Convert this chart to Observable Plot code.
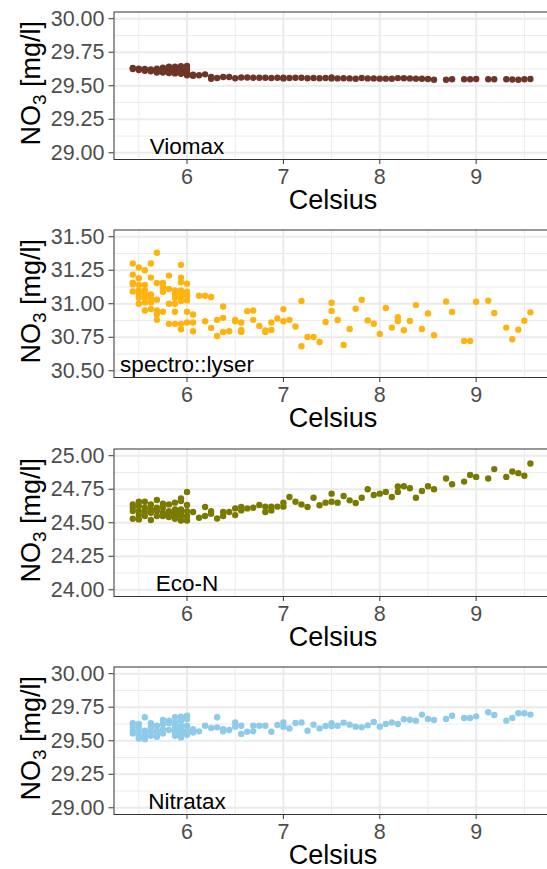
<!DOCTYPE html>
<html>
<head>
<meta charset="utf-8">
<script src="https://cdn.jsdelivr.net/npm/d3@7"></script>
<script src="https://cdn.jsdelivr.net/npm/@observablehq/plot@0.6"></script>
<style>
  html, body { margin: 0; padding: 0; background: #fff; overflow: hidden; }
  #wrap { position: relative; width: 547px; height: 869px; overflow: hidden; }
  #wrap svg { position: absolute; left: 0; max-width: none !important; }
</style>
</head>
<body>
<div id="wrap"></div>
<script>
// Temperature (°C) columns with the NO3 readings (mg/l) observed at each one
const viomax = [
  [5.4375, [29.632, 29.625]], [5.5, [29.628, 29.618]], [5.5625, [29.625, 29.612]],
  [5.625, [29.622, 29.608]], [5.6875, [29.628, 29.61, 29.598]], [5.75, [29.635, 29.615, 29.598]],
  [5.8125, [29.642, 29.62, 29.595]], [5.875, [29.642, 29.615, 29.592]], [5.9375, [29.645, 29.618, 29.59]],
  [6.0, [29.648, 29.62, 29.595, 29.578]], [6.0625, [29.582, 29.575]], [6.125, [29.578]],
  [6.1875, [29.585]], [6.25, [29.565, 29.552]], [6.3125, [29.558]], [6.375, [29.565]],
  [6.4375, [29.565]], [6.5, [29.556]], [6.5625, [29.562]], [6.625, [29.562]], [6.6875, [29.56]],
  [6.75, [29.56]], [6.8125, [29.56]], [6.875, [29.558]], [6.9375, [29.56]], [7.0, [29.56, 29.555]],
  [7.0625, [29.558]], [7.125, [29.56]], [7.1875, [29.56]], [7.25, [29.556]], [7.3125, [29.558]],
  [7.375, [29.556]], [7.4375, [29.558]], [7.5, [29.562, 29.555]], [7.5625, [29.555]],
  [7.625, [29.556]], [7.6875, [29.555]], [7.75, [29.552]], [7.8125, [29.558]], [7.875, [29.555]],
  [7.9375, [29.555]], [8.0, [29.553]], [8.0625, [29.553]], [8.125, [29.552]], [8.1875, [29.557]],
  [8.25, [29.556]], [8.3125, [29.555]], [8.375, [29.553]], [8.4375, [29.552]], [8.5, [29.55]],
  [8.5625, [29.545]], [8.6875, [29.545]], [8.75, [29.548]], [8.875, [29.548]], [8.9375, [29.548]],
  [9.0, [29.55]], [9.125, [29.548]], [9.1875, [29.548]], [9.3125, [29.548]], [9.375, [29.547]],
  [9.4375, [29.545]], [9.5, [29.548]], [9.5625, [29.55]]
];
const spectrolyser = [
  [5.4375, [31.30, 31.217, 31.157, 31.145, 31.092]],
  [5.5, [31.27, 31.19, 31.14, 31.10, 31.075, 31.045, 31.00]],
  [5.5625, [31.25, 31.14, 31.10, 31.075, 31.045, 31.01, 30.95]],
  [5.625, [31.30, 31.195, 31.07, 31.04, 31.01, 30.96]],
  [5.6875, [31.38, 31.155, 31.03, 30.95, 30.92, 30.88]],
  [5.75, [31.155, 31.125, 31.09, 30.94]],
  [5.8125, [31.21, 31.11, 31.00, 30.85]],
  [5.875, [31.10, 31.075, 31.045, 31.00, 30.94, 30.85]],
  [5.9375, [31.29, 31.195, 31.16, 31.10, 31.08, 31.05, 31.02, 30.85, 30.81]],
  [6.0, [31.15, 31.09, 31.06, 31.025, 30.94, 30.86]],
  [6.0625, [30.92, 30.86, 30.795]], [6.125, [31.06]], [6.1875, [31.06, 30.87]],
  [6.25, [31.05, 30.82]], [6.3125, [30.88, 30.76]], [6.375, [30.98, 30.895, 30.79]],
  [6.4375, [30.795]], [6.5, [30.88, 30.87]], [6.5625, [30.86, 30.805, 30.79]],
  [6.625, [30.945]], [6.6875, [30.95, 30.88]], [6.75, [30.835]], [6.8125, [30.80, 30.79]],
  [6.875, [30.86, 30.805]], [6.9375, [30.89]], [7.0, [30.96, 30.87]], [7.0625, [30.88]],
  [7.125, [30.83]], [7.1875, [31.02, 30.683]], [7.25, [30.752]], [7.3125, [30.752]],
  [7.375, [30.715]], [7.4375, [30.864]], [7.5, [31.007, 30.946]], [7.5625, [30.879]],
  [7.625, [30.693]], [7.6875, [30.812]], [7.75, [30.963]], [7.8125, [31.03]], [7.875, [30.876]],
  [7.9375, [30.851]], [8.0, [30.775]], [8.0625, [30.968]], [8.125, [30.822]],
  [8.1875, [30.899, 30.871]], [8.25, [30.802]], [8.3125, [30.871]], [8.375, [30.99]],
  [8.4375, [30.812]], [8.5, [30.928]], [8.5625, [30.765]], [8.6875, [31.017]], [8.75, [30.938]],
  [8.875, [30.723]], [8.9375, [30.723]], [9.0, [31.015]], [9.125, [31.022]], [9.1875, [30.931]],
  [9.3125, [30.822]], [9.375, [30.735]], [9.4375, [30.807]], [9.5, [30.874]], [9.5625, [30.936]]
];
const ecoN = [
  [5.4375, [24.637, 24.612, 24.587, 24.53]],
  [5.5, [24.657, 24.625, 24.587, 24.557, 24.525]],
  [5.5625, [24.657, 24.612, 24.582, 24.55]],
  [5.625, [24.637, 24.60, 24.575, 24.52]],
  [5.6875, [24.67, 24.612, 24.587, 24.55]],
  [5.75, [24.642, 24.612, 24.575, 24.55]],
  [5.8125, [24.637, 24.587, 24.567, 24.542]],
  [5.875, [24.65, 24.60, 24.575, 24.55, 24.53]],
  [5.9375, [24.682, 24.662, 24.60, 24.575, 24.55, 24.517]],
  [6.0, [24.73, 24.632, 24.587, 24.55, 24.517]],
  [6.0625, [24.58]], [6.125, [24.537]], [6.1875, [24.617, 24.55]], [6.25, [24.587, 24.567]],
  [6.3125, [24.532]], [6.375, [24.58, 24.55]], [6.4375, [24.58]], [6.5, [24.607, 24.557]],
  [6.5625, [24.617, 24.592]], [6.625, [24.607]], [6.6875, [24.612]], [6.75, [24.632]],
  [6.8125, [24.62, 24.58]], [6.875, [24.62, 24.592]], [6.9375, [24.62]], [7.0, [24.65, 24.62]],
  [7.0625, [24.692]], [7.125, [24.657]], [7.1875, [24.637]], [7.25, [24.617]], [7.3125, [24.687]],
  [7.375, [24.63]], [7.4375, [24.65]], [7.5, [24.717, 24.657]], [7.5625, [24.65]], [7.625, [24.70]],
  [7.6875, [24.667]], [7.75, [24.647]], [7.8125, [24.687]], [7.875, [24.75]], [7.9375, [24.707]],
  [8.0, [24.717]], [8.0625, [24.73]], [8.125, [24.692]], [8.1875, [24.77, 24.73]], [8.25, [24.772]],
  [8.3125, [24.757]], [8.375, [24.687]], [8.4375, [24.737]], [8.5, [24.772]], [8.5625, [24.75]],
  [8.6875, [24.83]], [8.75, [24.787]], [8.875, [24.807]], [8.9375, [24.857]], [9.0, [24.842]],
  [9.125, [24.83]], [9.1875, [24.90]], [9.3125, [24.842]], [9.375, [24.882]], [9.4375, [24.87]],
  [9.5, [24.85]], [9.5625, [24.942]]
];
const nitratax = [
  [5.4375, [29.63, 29.605, 29.575, 29.555]],
  [5.5, [29.625, 29.60, 29.57, 29.537, 29.517]],
  [5.5625, [29.675, 29.575, 29.55, 29.53, 29.512]],
  [5.625, [29.63, 29.60, 29.57, 29.537]],
  [5.6875, [29.612, 29.575, 29.55, 29.53]],
  [5.75, [29.655, 29.625, 29.587, 29.555]],
  [5.8125, [29.65, 29.63, 29.58]],
  [5.875, [29.675, 29.637, 29.605, 29.575, 29.555, 29.537]],
  [5.9375, [29.68, 29.65, 29.612, 29.587, 29.562, 29.545, 29.525]],
  [6.0, [29.687, 29.662, 29.612, 29.575, 29.545]],
  [6.0625, [29.587, 29.562]], [6.125, [29.57]], [6.1875, [29.612]], [6.25, [29.595]],
  [6.3125, [29.675, 29.60]], [6.375, [29.587, 29.57]], [6.4375, [29.58]], [6.5, [29.637, 29.605]],
  [6.5625, [29.612, 29.55]], [6.625, [29.567]], [6.6875, [29.612, 29.57]], [6.75, [29.612]],
  [6.8125, [29.612]], [6.875, [29.567]], [6.9375, [29.617]], [7.0, [29.637, 29.605]],
  [7.0625, [29.592]], [7.125, [29.632]], [7.1875, [29.637]], [7.25, [29.575]], [7.3125, [29.62]],
  [7.375, [29.592]], [7.4375, [29.61]], [7.5, [29.63, 29.61]], [7.5625, [29.612]], [7.625, [29.635]],
  [7.6875, [29.62]], [7.75, [29.605]], [7.8125, [29.60]], [7.875, [29.615]], [7.9375, [29.64]],
  [8.0, [29.605]], [8.0625, [29.625]], [8.125, [29.637]], [8.1875, [29.625]], [8.25, [29.66]],
  [8.3125, [29.657]], [8.375, [29.65]], [8.4375, [29.695]], [8.5, [29.662]], [8.5625, [29.655]],
  [8.6875, [29.662]], [8.75, [29.687]], [8.875, [29.67]], [8.9375, [29.67]], [9.0, [29.682]],
  [9.125, [29.712]], [9.1875, [29.692]], [9.3125, [29.65]], [9.375, [29.67]], [9.4375, [29.705]],
  [9.5, [29.705]], [9.5625, [29.695]]
];

// Tick labels
const celsiusTicks = [6, 7, 8, 9];
const celsiusMinor = [5.5, 6.5, 7.5, 8.5, 9.5];
const viomaxTicks = [29.00, 29.25, 29.50, 29.75, 30.00];
const spectroTicks = [30.50, 30.75, 31.00, 31.25, 31.50];
const ecoNTicks = [24.00, 24.25, 24.50, 24.75, 25.00];
const nitrataxTicks = [29.00, 29.25, 29.50, 29.75, 30.00];

const sensorNames = ["Viomax", "spectro::lyser", "Eco-N", "Nitratax"];
const sensorColors = ["#6E3427", "#FFB30F", "#7A7A00", "#8ECBE8"];

const FONT = '"Liberation Sans", Arial, Helvetica, sans-serif';
const tidy = cols => cols.flatMap(([t, vs]) => vs.map(v => ({t, v})));

function panel(cols, ticks, name, color, top) {
  const ymin = ticks[0], ymax = ticks[ticks.length - 1];
  const minorY = ticks.slice(0, -1).map((d, i) => (d + ticks[i + 1]) / 2);
  const svg = Plot.plot({
    width: 555, height: 218,
    marginLeft: 113.5, marginRight: 1.5, marginTop: 11.5, marginBottom: 59,
    style: {fontFamily: FONT, background: "transparent", overflow: "visible", maxWidth: "none"},
    x: {domain: [5.2425, 9.8075]},
    y: {domain: [ymin - 0.05, ymax + 0.05]},
    marks: [
      Plot.ruleX(celsiusMinor, {stroke: "#ebebeb", strokeWidth: 1}),
      Plot.ruleY(minorY, {stroke: "#ebebeb", strokeWidth: 1}),
      Plot.ruleX(celsiusTicks, {stroke: "#ebebeb", strokeWidth: 2}),
      Plot.ruleY(ticks, {stroke: "#ebebeb", strokeWidth: 2}),
      Plot.dot(tidy(cols), {x: "t", y: "v", r: 3.2, fill: color, stroke: "none"}),
      Plot.text([name], {x: 6, y: ymin, text: d => d, fontSize: 22.5, fill: "black", lineAnchor: "middle", dy: -5.7}),
      Plot.axisX({ticks: celsiusTicks, tickFormat: d3.format("d"), tickSize: 5, tickPadding: 4.5, fontSize: 21.5, fill: "#4d4d4d", stroke: "#333", label: null}),
      Plot.axisY({ticks, tickFormat: d3.format(".2f"), tickSize: 5, tickPadding: 4.5, fontSize: 21.5, fill: "#4d4d4d", stroke: "#333", label: null}),
      Plot.frame({stroke: "#333", strokeWidth: 1})
    ]
  });
  svg.style.maxWidth = "none";
  svg.style.width = "555px";
  svg.style.height = "218px";
  const s = d3.select(svg);
  const cy = 11.5 + 147.5 / 2 - 2;
  const yl = s.append("text")
    .attr("transform", `translate(39.5,${cy}) rotate(-90)`)
    .attr("text-anchor", "middle")
    .attr("font-family", FONT).attr("font-size", 27).attr("fill", "black");
  yl.append("tspan").text("NO");
  yl.append("tspan").attr("font-size", 19).attr("dy", 6).text("3");
  yl.append("tspan").attr("dy", -6).text(" [mg/l]");
  s.append("text")
    .attr("x", 333).attr("y", 11.5 + 147.5 + 49.6)
    .attr("text-anchor", "middle")
    .attr("font-family", FONT).attr("font-size", 27).attr("fill", "black")
    .text("Celsius");
  svg.style.top = top + "px";
  document.getElementById("wrap").appendChild(svg);
}

panel(viomax, viomaxTicks, sensorNames[0], sensorColors[0], 0);
panel(spectrolyser, spectroTicks, sensorNames[1], sensorColors[1], 217.8);
panel(ecoN, ecoNTicks, sensorNames[2], sensorColors[2], 436.8);
panel(nitratax, nitrataxTicks, sensorNames[3], sensorColors[3], 655.2);
</script>
</body>
</html>
